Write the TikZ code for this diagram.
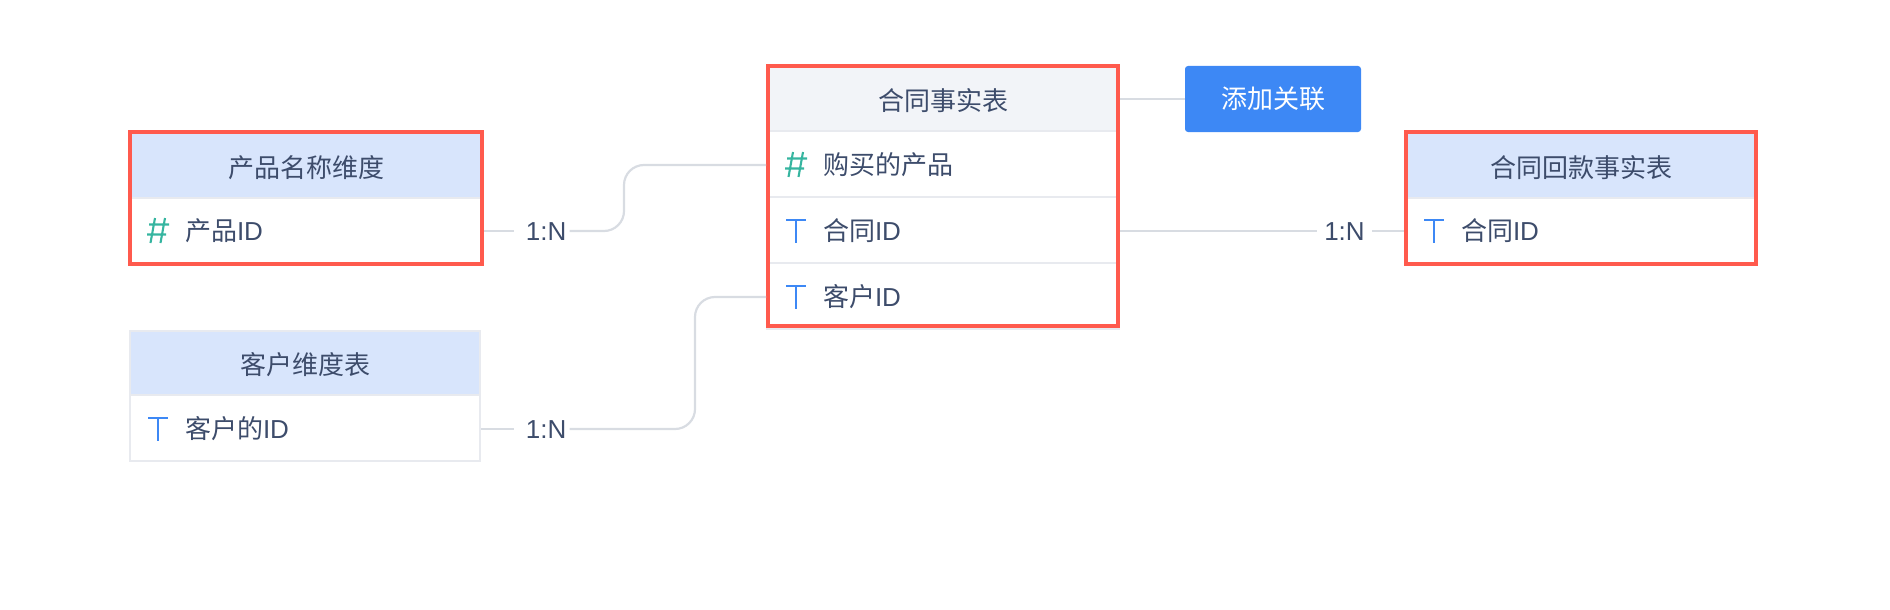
\documentclass[tikz,border=0pt]{standalone}
\usepackage{fontspec}
\setmainfont{Liberation Sans}
\newfontfamily\cjk{Noto Sans CJK SC}
\definecolor{inkc}{HTML}{3D4C6B}
\definecolor{redc}{HTML}{FF5A4D}
\definecolor{headblue}{HTML}{D8E5FC}
\definecolor{headgray}{HTML}{F2F4F8}
\definecolor{sepc}{HTML}{E8EAEF}
\definecolor{linec}{HTML}{D8DCE2}
\definecolor{bluec}{HTML}{3D88F5}
\definecolor{tealc}{HTML}{36B5A0}
\tikzset{
  x=1pt,y=-1pt,
  txt/.style={font=\fontsize{26}{30}\selectfont,text=inkc,text height=26pt,text depth=7pt,inner sep=0pt,outer sep=0pt},
  headbox/.style={txt,text height=29pt,minimum height=64pt,anchor=north west,fill=#1},
  rowbox/.style={minimum height=66pt,anchor=north west,inner sep=0pt,outer sep=0pt},
  rowtext/.style={txt,anchor=west},
  frame/.style={draw=redc,line width=4pt,anchor=north west,inner sep=0pt,outer sep=2pt},
  grayframe/.style={draw=sepc,line width=2pt,anchor=north west,inner sep=0pt,outer sep=1pt},
  sep/.style={draw=sepc,line width=2pt},
  conn/.style={draw=linec,line width=2.2pt},
  curved/.style={conn,rounded corners=20pt},
  cardlabel/.style={txt,minimum width=55.5pt,anchor=center},
  numicon/.pic={
    \draw[tealc,line width=2.1pt] (-9,-6.5)--(11,-6.5) (-11,3.5)--(8,3.5) (-3,-13)--(-7.5,12) (7,-13)--(2.5,12);
  },
  texticon/.pic={
    \draw[bluec,line width=2.2pt] (-10,-11)--(10,-11) (0,-11)--(0,12);
  },
}
\begin{document}
\begin{tikzpicture}
\useasboundingbox (0,0) rectangle (1890,610);
% product dimension
\node[headbox=headblue,minimum width=348pt] (ph) at (132,134) {{\cjk 产品名称维度}\hspace{2pt}};
\node[rowbox,minimum width=348pt] (pr) at (132,198) {};
\draw[sep] (ph.south west)--(ph.south east);
\node[frame,minimum width=352pt,minimum height=132pt] (pf) at (128,130) {};
\pic at (158,231) {numicon};
\node[rowtext] (pt) at (185,231) {{\cjk 产品}ID};
% customer dimension
\node[headbox=headblue,text height=30pt,minimum width=350pt,minimum height=64pt] (ch) at (130,331) {\cjk 客户维度表};
\node[rowbox,minimum width=350pt] (cr) at (130,396) {};
\draw[sep] (ch.south west)--(ch.south east);
\node[grayframe,minimum width=350pt,minimum height=130pt] (cf) at (129,330) {};
\pic at (158,429) {texticon};
\node[rowtext] (ct) at (185,429) {{\cjk 客户的}ID};
% contract fact
\node[headbox=headgray,minimum width=346pt,minimum height=63pt] (fh) at (770,68) {\cjk 合同事实表};
\node[rowbox,minimum width=346pt] (f1) at (770,131) {};
\node[rowbox,minimum width=346pt] (f2) at (770,197) {};
\node[rowbox,minimum width=346pt,minimum height=64pt] (f3) at (770,263) {};
\draw[sep] (f1.north west)--(f1.north east);
\draw[sep] (f2.north west)--(f2.north east);
\draw[sep] (f3.north west)--(f3.north east);
\node[frame,minimum width=350pt,minimum height=260pt] (ff) at (766,64) {};
\draw[sep] ([yshift=-1pt]ff.south west)--([yshift=-1pt]ff.south east);
\pic at (796,165) {numicon};
\node[rowtext] (f1t) at (823,165) {\cjk 购买的产品};
\pic at (796,231) {texticon};
\node[rowtext] (f2t) at (823,231) {{\cjk 合同}ID};
\pic at (796,297) {texticon};
\node[rowtext] (f3t) at (823,297) {{\cjk 客户}ID};
% button
\node[txt,fill=bluec,rounded corners=3pt,minimum width=176pt,minimum height=66pt,text=white,anchor=north west] (btn) at (1185,66) {\cjk 添加关联};
% refund fact
\node[headbox=headblue,minimum width=346pt] (rh) at (1408,134) {{\cjk 合同回款事实表}\hspace{2pt}};
\node[rowbox,minimum width=346pt] (rr) at (1408,198) {};
\draw[sep] (rh.south west)--(rh.south east);
\node[frame,minimum width=350pt,minimum height=132pt] (rf) at (1404,130) {};
\pic at (1434,231) {texticon};
\node[rowtext] (rt) at (1461,231) {{\cjk 合同}ID};
% connectors
\node[cardlabel] (l1) at (541.75,231) {\hspace{8.6pt}1:N};
\node[cardlabel] (l2) at (541.75,429) {\hspace{8.6pt}1:N};
\node[cardlabel] (l3) at (1344.5,231) {1:N\hspace{7pt}};
\coordinate (b1) at (624,231);
\coordinate (b2) at (695,429);
\draw[conn] (pf.east |- l1) -- (l1.west);
\draw[curved] (l1.east) -- (b1) |- (ff.west |- f1t.west);
\draw[conn] (cf.east |- l2) -- (l2.west);
\draw[curved] (l2.east) -- (b2) |- (ff.west |- f3t.west);
\draw[conn] (ff.east |- l3) -- (l3.west);
\draw[conn] (l3.east) -- (rf.west |- l3);
\draw[conn] (ff.east |- btn.west) -- (btn.west);
\end{tikzpicture}
\end{document}
